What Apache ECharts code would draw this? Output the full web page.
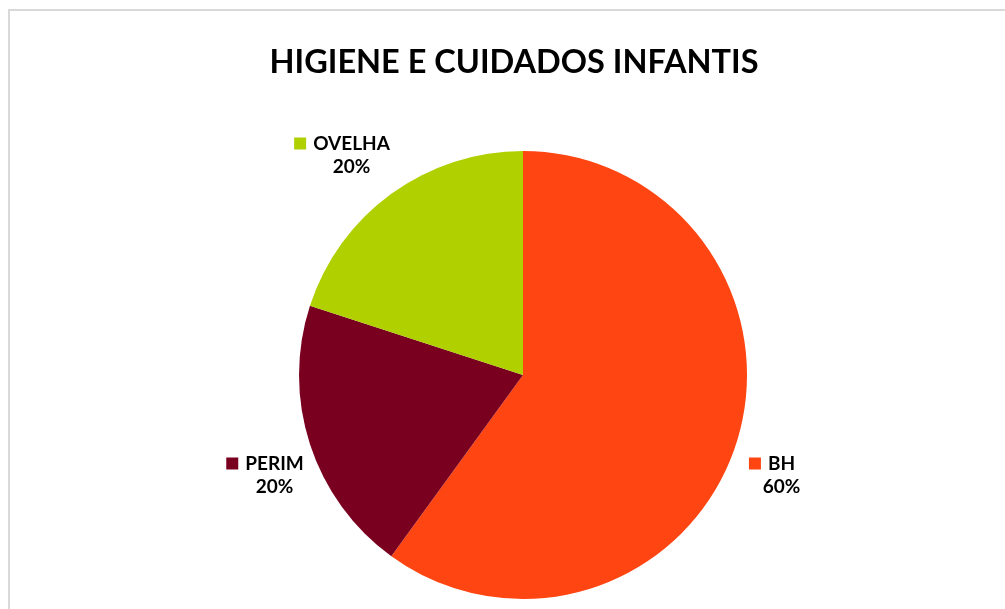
<!DOCTYPE html>
<html>
<head>
<meta charset="utf-8">
<script src="https://cdn.jsdelivr.net/npm/echarts@6/dist/echarts.min.js"></script>
<style>
html,body{margin:0;padding:0;background:#fff;}
#chart{width:1005px;height:609px;}
</style>
</head>
<body>
<div id="chart"></div>
<script>
const title = 'HIGIENE E CUIDADOS INFANTIS';
const categories = ['BH', 'PERIM', 'OVELHA'];
const values = [60, 20, 20];
const colors = ['#FF4511', '#7A0020', '#B0D000'];

const labelPos = [
  {x: 772, y: 475},
  {x: 265, y: 475},
  {x: 342, y: 155}
];

const chart = echarts.init(document.getElementById('chart'), null, {renderer: 'canvas'});
const font = 'Lato, "Open Sans", "DejaVu Sans", sans-serif';

chart.setOption({
  animation: false,
  backgroundColor: '#fff',
  graphic: [{
    type: 'rect',
    shape: {x: 9, y: 10, width: 1100, height: 700},
    style: {fill: 'none', stroke: '#d9d9d9', lineWidth: 2},
    silent: true
  }, {
    type: 'text',
    x: 514,
    y: 63,
    style: {
      text: title,
      font: 'bold 32.5px ' + font,
      fill: '#000',
      align: 'center',
      verticalAlign: 'middle'
    },
    silent: true
  }],
  series: [{
    type: 'pie',
    center: [523, 375],
    radius: 224,
    startAngle: 90,
    clockwise: true,
    data: categories.map((c, i) => ({
      name: c,
      value: values[i],
      itemStyle: {color: colors[i]},
      label: {rich: {sq: {backgroundColor: colors[i], width: 12, height: 12}}}
    })),
    label: {
      show: true,
      position: 'outside',
      formatter: (p) => '{sq|}{name|' + p.name + '}\n{pct|' + Math.round(p.percent) + '%}',
      align: 'center',
      lineHeight: 23,
      rich: {
        sq: {width: 12, height: 12},
        name: {fontFamily: font, fontWeight: 'bold', fontSize: 19, color: '#000', padding: [0, 0, 0, 7], lineHeight: 23},
        pct: {fontFamily: font, fontWeight: 'bold', fontSize: 19, color: '#000', padding: [0, 0, 0, 19], lineHeight: 23}
      }
    },
    labelLine: {show: false},
    labelLayout: (params) => ({
      x: labelPos[params.dataIndex].x,
      y: labelPos[params.dataIndex].y,
      align: 'center',
      verticalAlign: 'middle'
    }),
    emphasis: {disabled: true}
  }]
});
</script>
</body>
</html>
